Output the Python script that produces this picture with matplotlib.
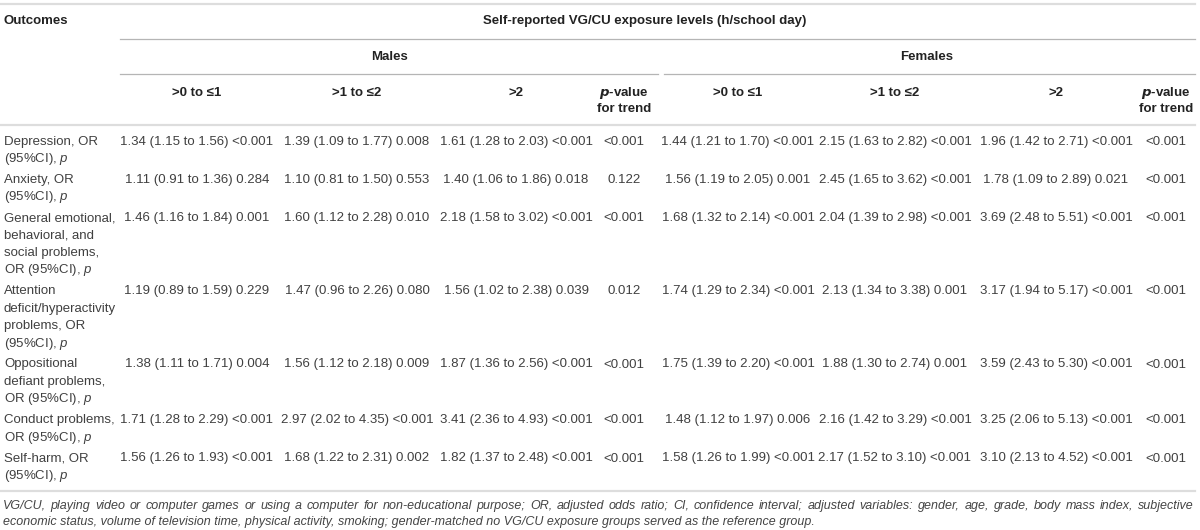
import matplotlib
matplotlib.use("Agg")
import matplotlib.pyplot as plt

plt.rcParams['font.family'] = ['Liberation Sans', 'DejaVu Sans']
plt.rcParams['mathtext.fontset'] = 'custom'
plt.rcParams['mathtext.it'] = 'Liberation Sans:italic'
plt.rcParams['mathtext.rm'] = 'Liberation Sans'
plt.rcParams['mathtext.bf'] = 'Liberation Sans:bold'

# Table content
outcomes = [
    ["Depression, OR", "(95%CI), $p$"],
    ["Anxiety, OR", "(95%CI), $p$"],
    ["General emotional,", "behavioral, and", "social problems,", "OR (95%CI), $p$"],
    ["Attention", "deficit/hyperactivity", "problems, OR", "(95%CI), $p$"],
    ["Oppositional", "defiant problems,", "OR (95%CI), $p$"],
    ["Conduct problems,", "OR (95%CI), $p$"],
    ["Self-harm, OR", "(95%CI), $p$"],
]
levels = [">0 to \u22641", ">1 to \u22642", ">2"]

males_low = ["1.34 (1.15 to 1.56) <0.001", "1.11 (0.91 to 1.36) 0.284", "1.46 (1.16 to 1.84) 0.001",
             "1.19 (0.89 to 1.59) 0.229", "1.38 (1.11 to 1.71) 0.004", "1.71 (1.28 to 2.29) <0.001",
             "1.56 (1.26 to 1.93) <0.001"]
males_mid = ["1.39 (1.09 to 1.77) 0.008", "1.10 (0.81 to 1.50) 0.553", "1.60 (1.12 to 2.28) 0.010",
             "1.47 (0.96 to 2.26) 0.080", "1.56 (1.12 to 2.18) 0.009", "2.97 (2.02 to 4.35) <0.001",
             "1.68 (1.22 to 2.31) 0.002"]
males_high = ["1.61 (1.28 to 2.03) <0.001", "1.40 (1.06 to 1.86) 0.018", "2.18 (1.58 to 3.02) <0.001",
              "1.56 (1.02 to 2.38) 0.039", "1.87 (1.36 to 2.56) <0.001", "3.41 (2.36 to 4.93) <0.001",
              "1.82 (1.37 to 2.48) <0.001"]
males_trend = ["<0.001", "0.122", "<0.001", "0.012", "<0.001", "<0.001", "<0.001"]

females_low = ["1.44 (1.21 to 1.70) <0.001", "1.56 (1.19 to 2.05) 0.001", "1.68 (1.32 to 2.14) <0.001",
               "1.74 (1.29 to 2.34) <0.001", "1.75 (1.39 to 2.20) <0.001", "1.48 (1.12 to 1.97) 0.006",
               "1.58 (1.26 to 1.99) <0.001"]
females_mid = ["2.15 (1.63 to 2.82) <0.001", "2.45 (1.65 to 3.62) <0.001", "2.04 (1.39 to 2.98) <0.001",
               "2.13 (1.34 to 3.38) 0.001", "1.88 (1.30 to 2.74) 0.001", "2.16 (1.42 to 3.29) <0.001",
               "2.17 (1.52 to 3.10) <0.001"]
females_high = ["1.96 (1.42 to 2.71) <0.001", "1.78 (1.09 to 2.89) 0.021", "3.69 (2.48 to 5.51) <0.001",
                "3.17 (1.94 to 5.17) <0.001", "3.59 (2.43 to 5.30) <0.001", "3.25 (2.06 to 5.13) <0.001",
                "3.10 (2.13 to 4.52) <0.001"]
females_trend = ["<0.001", "<0.001", "<0.001", "<0.001", "<0.001", "<0.001", "<0.001"]

footnote = [
    "VG/CU, playing video or computer games or using a computer for non-educational purpose; OR, adjusted odds ratio; "
    "CI, confidence interval; adjusted variables: gender, age, grade, body mass index, subjective",
    "economic status, volume of television time, physical activity, smoking; gender-matched no VG/CU exposure "
    "groups served as the reference group.",
]

W, H = 1200, 530
fig = plt.figure(figsize=(W / 100, H / 100), dpi=100)
ax = fig.add_axes([0, 0, 1, 1])
ax.set_xlim(0, W)
ax.set_ylim(H, 0)
ax.axis('off')

body_c = '#404040'
head_c = '#222222'
fs = 9.5
foot_fs = 9.0

col_x = [197, 357, 516, 624, 738, 895, 1056, 1166]
columns = [males_low, males_mid, males_high, males_trend,
           females_low, females_mid, females_high, females_trend]

# rules
ax.plot([0, 1195], [4.3, 4.3], color='#dddddd', lw=1.6)
ax.plot([120, 1195], [38.7, 38.7], color='#b5b5b5', lw=0.9)
ax.plot([120, 658], [74, 74], color='#b5b5b5', lw=0.9)
ax.plot([664, 1195], [74, 74], color='#b5b5b5', lw=0.9)
ax.plot([0, 1195], [125, 125], color='#dddddd', lw=1.6)
ax.plot([0, 1195], [491, 491], color='#dddddd', lw=1.6)

# header
ax.text(3, 21, "Outcomes", ha='left', va='center', fontsize=fs, fontweight='bold', color=head_c)
ax.text(645, 21, "Self-reported VG/CU exposure levels (h/school day)", ha='center', va='center',
        fontsize=fs, fontweight='bold', color=head_c)
ax.text(389, 56.5, "Males", ha='center', va='center', fontsize=fs, fontweight='bold', color=head_c)
ax.text(927, 56.5, "Females", ha='center', va='center', fontsize=fs, fontweight='bold', color=head_c)
for g in range(2):
    for i, lab in enumerate(levels):
        ax.text(col_x[g * 4 + i], 93, lab, ha='center', va='center', fontsize=fs,
                fontweight='bold', color=head_c)
    xp = col_x[g * 4 + 3]
    ax.text(xp, 93, "$\\mathbfit{p}$-value", ha='center', va='center', fontsize=fs,
            fontweight='bold', color=head_c)
    ax.text(xp, 109.5, "for trend", ha='center', va='center', fontsize=fs,
            fontweight='bold', color=head_c)

# body
line_h = 17.4
gap = 3.5
y = 141.7
for r, lines in enumerate(outcomes):
    for k, s in enumerate(lines):
        ax.text(4, y + k * line_h, s, ha='left', va='center', fontsize=fs, color=body_c)
    for c, col in enumerate(columns):
        ax.text(col_x[c], y, col[r], ha='center', va='center', fontsize=fs, color=body_c)
    y += len(lines) * line_h + gap

# footnote: first line justified to the table width, second line left aligned
renderer = fig.canvas.get_renderer()
words = footnote[0].split(' ')
word_txt = [ax.text(0, 506, w, ha='left', va='center', fontsize=foot_fs, style='italic', color='#444444')
            for w in words]
widths = [t.get_window_extent(renderer).width for t in word_txt]
x0, x1 = 3, 1194
space = (x1 - x0 - sum(widths)) / (len(words) - 1)
x = x0
for t, w in zip(word_txt, widths):
    t.set_x(x)
    x += w + space
ax.text(3, 522, footnote[1], ha='left', va='center', fontsize=foot_fs, style='italic', color='#444444')

fig.savefig("out.png", dpi=100)
